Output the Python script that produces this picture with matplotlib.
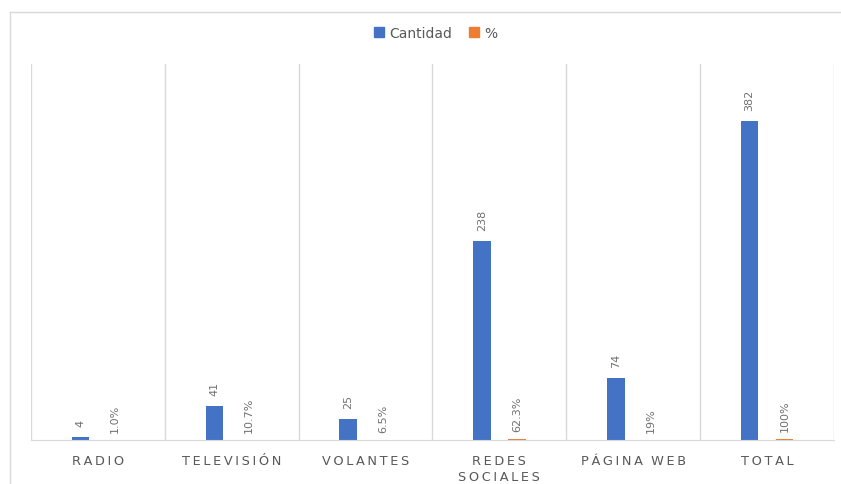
import numpy as np
import matplotlib.pyplot as plt
from matplotlib.patches import Patch
from matplotlib.lines import Line2D

categorias = ["RADIO", "TELEVISIÓN", "VOLANTES", "REDES\nSOCIALES", "PÁGINA WEB", "TOTAL"]
cantidad = [4, 41, 25, 238, 74, 382]
porcentaje = [0.010, 0.107, 0.065, 0.623, 0.19, 1.00]
porcentaje_txt = ["1.0%", "10.7%", "6.5%", "62.3%", "19%", "100%"]

azul = "#4472C4"
naranja = "#ED7D31"
gris = "#595959"
linea = "#D9D9D9"


def espaciar(s):
    # letter spacing like the original axis labels
    return "\n".join("\u2009".join(list(p)).replace("\u2009 \u2009", "  ") for p in s.split("\n"))


fig = plt.figure(figsize=(8.41, 4.85), dpi=100)
ax = fig.add_axes([31 / 841, 1 - 441 / 485, (834 - 31) / 841, (441 - 65) / 485])

x = np.arange(len(categorias))
w = 0.13
b1 = ax.bar(x - w, cantidad, width=w, color=azul)
b2 = ax.bar(x + w, porcentaje, width=w, color=naranja)

for xi, v in zip(x, cantidad):
    ax.annotate(str(v), (xi - w, v), xytext=(0, 8), textcoords="offset points",
                rotation=90, ha="center", va="bottom", fontsize=8, color="#707070")
for xi, v, t in zip(x, porcentaje, porcentaje_txt):
    ax.annotate(t, (xi + w, v), xytext=(0, 6), textcoords="offset points",
                rotation=90, ha="center", va="bottom", fontsize=8, color="#707070")

ax.set_xlim(-0.5, len(categorias) - 0.5)
ax.set_ylim(0, 450)
ax.set_xticks(x)
ax.set_xticklabels([espaciar(c) for c in categorias], fontsize=9.3, color=gris, linespacing=1.3)
ax.set_xticks(np.arange(len(categorias) + 1) - 0.5, minor=True)
ax.tick_params(axis="x", which="both", length=0, pad=10)
ax.set_yticks([])
ax.grid(axis="x", which="minor", color=linea, linewidth=1)
ax.set_axisbelow(True)
for s in ["top", "left", "right"]:
    ax.spines[s].set_visible(False)
ax.spines["bottom"].set_color(linea)

fig.legend(handles=[Patch(color=azul, label="Cantidad"), Patch(color=naranja, label="%")],
           loc="center", bbox_to_anchor=(436 / 841, 1 - 34 / 485), ncol=2, frameon=False,
           fontsize=10, handlelength=0.7, handleheight=0.7, handletextpad=0.4,
           columnspacing=1.2, labelcolor=gris)

# outer chart border
fig.add_artist(Line2D([10 / 841, 10 / 841], [-0.01, 1 - 13 / 485], color=linea, lw=1))
fig.add_artist(Line2D([10 / 841, 1.01], [1 - 13 / 485, 1 - 13 / 485], color=linea, lw=1))

fig.savefig("out.png", dpi=100)
